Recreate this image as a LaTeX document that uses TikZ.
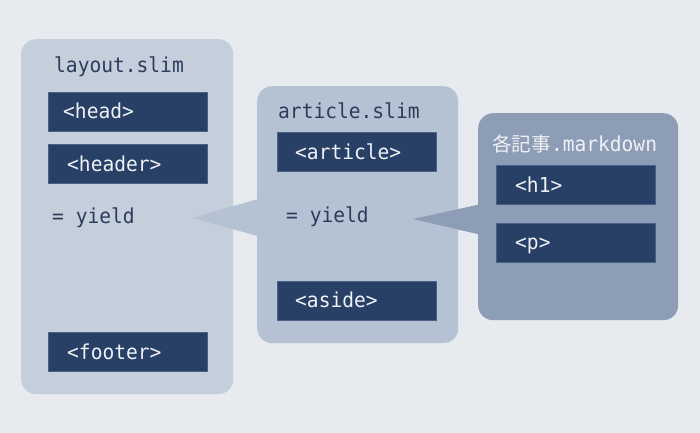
\documentclass[tikz,border=0pt]{standalone}
\usepackage{fontspec}
\setmonofont[FakeStretch=0.95]{DejaVu Sans Mono}
\newfontfamily\cjkfont{Noto Sans CJK JP}
\usetikzlibrary{calc}
\definecolor{bgc}{HTML}{E7EAEF}
\definecolor{layoutc}{HTML}{C5CFDB}
\definecolor{articlec}{HTML}{B4C2D4}
\definecolor{mdc}{HTML}{8C9DB5}
\definecolor{tagc}{HTML}{283F66}
\definecolor{tagborder}{HTML}{4A6088}
\definecolor{darktext}{HTML}{2A3D5C}
\definecolor{lighttext}{HTML}{EEF1F5}
\begin{document}
\begin{tikzpicture}[x=1bp,y=-1bp,
  panel/.style={rounded corners=15bp, inner sep=0pt, anchor=north west},
  tagbox/.style={fill=tagc, draw=tagborder, line width=0.7bp, inner sep=0pt, anchor=north west,
    minimum width=159bp, minimum height=39bp},
  txt/.style={anchor=base west, inner sep=0pt, font=\ttfamily\fontsize{20.6bp}{24bp}\selectfont},
  dtxt/.style={txt, text=darktext},
  ltxt/.style={txt, text=lighttext}]
\fill[bgc] (0,0) rectangle (700,433);
\useasboundingbox (0,0) rectangle (700,433);

% layout.slim
\node[panel, fill=layoutc, minimum width=212bp, minimum height=355bp] (layout) at (21,39) {};
\node[dtxt] (layoutT) at (54,73) {layout.slim};
\node[tagbox] (head) at (48,92) {};
\node[ltxt] (headT) at (63,119) {<head>};
\node[tagbox] (header) at (48,144) {};
\node[ltxt] (headerT) at (67,172) {<header>};
\node[dtxt] (yieldA) at (52,224) {= yield};
\node[tagbox] (footer) at (48,332) {};
\node[ltxt] (footerT) at (67,359) {<footer>};

% pointer article -> layout
\coordinate (tipA) at (192,218);
% article.slim
\node[panel, fill=articlec, minimum width=201bp, minimum height=257bp] (article) at (257,86) {};
\fill[articlec] (tipA) -- ($(article.north west)+(8,111)$) -- ($(article.north west)+(8,152)$) -- cycle;
\node[dtxt] (articleT) at (278,119) {article.slim};
\node[tagbox] (art) at (277,132) {};
\node[ltxt] (artT) at (295,160) {<article>};
\node[dtxt] (yieldB) at (286,223) {= yield};
\node[tagbox] (aside) at (277,281) {};
\node[ltxt] (asideT) at (295,308) {<aside>};

% pointer markdown -> article
\coordinate (tipB) at (413,219);
% markdown
\node[panel, fill=mdc, minimum width=200bp, minimum height=207bp] (md) at (478,113) {};
\fill[mdc] (tipB) -- ($(md.north west)+(8,90)$) -- ($(md.north west)+(8,123)$) -- cycle;
\node[ltxt] (mdT) at (492,152) {{\cjkfont\fontsize{19.6bp}{24bp}\selectfont 各記事}.markdown};
\node[tagbox] (h1) at (496,165) {};
\node[ltxt] (h1T) at (515,193) {<h1>};
\node[tagbox] (p) at (496,223) {};
\node[ltxt] (pT) at (515,250) {<p>};
\end{tikzpicture}
\end{document}
